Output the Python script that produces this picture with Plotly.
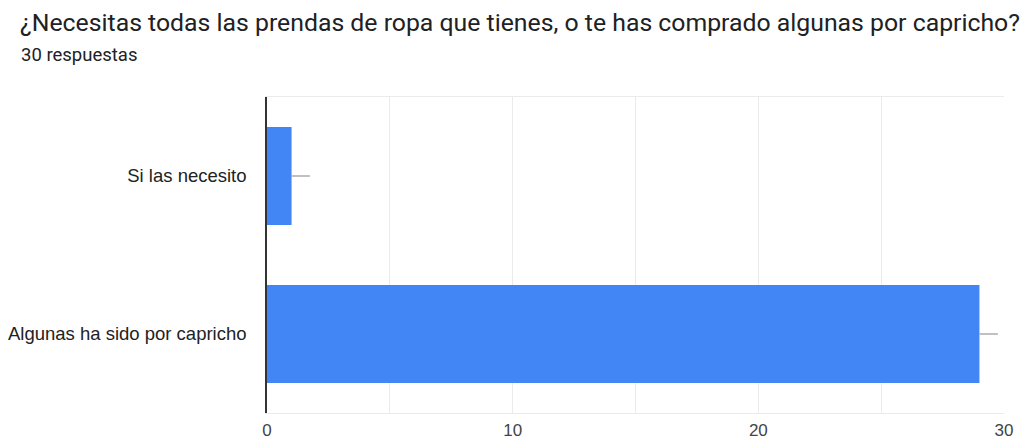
import plotly.graph_objects as go

# Survey answers, listed top to bottom
categories = ["Si las necesito", "Algunas ha sido por capricho"]
counts = [1, 29]
error_len = [0.75, 0.75]

title_text = "¿Necesitas todas las prendas de ropa que tienes, o te has comprado algunas por capricho?"
subtitle_text = "30 respuestas"

PLOT_W = 1031 - 267 - 27
PLOT_H = 441 - 97 - 28

fig = go.Figure(
    go.Bar(
        x=counts,
        y=categories,
        orientation="h",
        marker=dict(color="#4285F4", line=dict(width=0)),
        error_x=dict(type="data", array=error_len, symmetric=False, arrayminus=[0, 0],
                     color="#9e9e9e", thickness=1.3, width=0),
        hoverinfo="x+y",
    )
)

fig.update_layout(
    width=1031,
    height=441,
    margin=dict(l=267, r=27, t=97, b=28),
    paper_bgcolor="white",
    plot_bgcolor="white",
    bargap=0.38,
    showlegend=False,
    font=dict(family="Liberation Sans, Arial, sans-serif", color="#222222"),
    annotations=[
        dict(text=title_text, xref="paper", yref="paper", x=(18 - 267) / PLOT_W,
             y=1 + (97 - 22) / PLOT_H,
             xanchor="left", yanchor="middle", showarrow=False,
             font=dict(family="Roboto, sans-serif", size=24.8, color="#202124")),
        dict(text=subtitle_text, xref="paper", yref="paper", x=(19 - 267) / PLOT_W,
             y=1 + (97 - 55) / PLOT_H,
             xanchor="left", yanchor="middle", showarrow=False,
             font=dict(family="Roboto, sans-serif", size=18.5, color="#202124")),
    ],
)

fig.update_xaxes(
    range=[0, 30],
    tickvals=[0, 10, 20, 30],
    showgrid=True,
    gridcolor="#ebebeb",
    gridwidth=1,
    minor=dict(dtick=5, showgrid=True, gridcolor="#ebebeb", gridwidth=1),
    zeroline=False,
    showline=True,
    mirror=True,
    linecolor="#ebebeb",
    linewidth=1,
    ticks="outside",
    ticklen=2,
    tickcolor="rgba(0,0,0,0)",
    tickfont=dict(size=17, color="#444444"),
    automargin=False,
    fixedrange=True,
)

fig.update_yaxes(
    categoryorder="array",
    categoryarray=categories,
    autorange="reversed",
    showgrid=False,
    zeroline=False,
    showline=True,
    linecolor="#333333",
    linewidth=1.5,
    ticks="outside",
    ticklen=15,
    tickcolor="rgba(0,0,0,0)",
    tickfont=dict(size=18.5, color="#222222"),
    automargin=False,
    fixedrange=True,
)

fig.write_html("out.html")
